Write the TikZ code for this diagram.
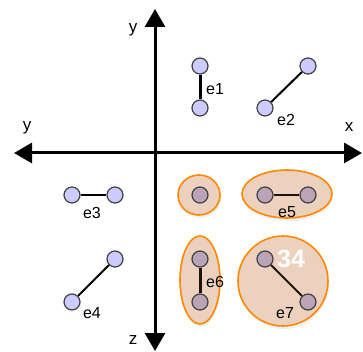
\documentclass[tikz,border=0pt]{standalone}
\usepackage{fontspec}
\setmainfont{Liberation Sans}
\usepackage{tikz}
\usetikzlibrary{arrows.meta,shadows}
\definecolor{vlight}{RGB}{204,204,255}
\definecolor{vgroup}{RGB}{188,164,184}
\definecolor{gfill}{RGB}{236,210,190}
\definecolor{gline}{RGB}{255,136,0}

\begin{document}
\begin{tikzpicture}[
    x=1pt, y=-1pt,
    >={Triangle[length=18pt,width=20pt]},
    axis/.style={line width=3pt},
    vert/.style={circle, draw=black!75, line width=1.2pt, fill=vlight, minimum size=16pt, inner sep=0pt},
    gvert/.style={vert, fill=vgroup},
    edge/.style={line width=2pt},
    elabel/.style={font=\fontsize{16}{16}\selectfont},
    axlabel/.style={font=\fontsize{17}{17}\selectfont},
    group/.style={draw=gline, line width=1.6pt, fill=gfill, drop shadow={opacity=0.12, shadow xshift=1pt, shadow yshift=-3pt}},
  ]
  \useasboundingbox (0,0) rectangle (363,352);

  % ========= AXES =========
  \coordinate (ytip) at (155,9);
  \coordinate (ztip) at (155,351);
  \coordinate (yleft) at (14,153);
  \coordinate (xtip) at (362,153);
  \draw[axis, <->] (ztip) -- (ytip);
  \draw[axis, <->] (yleft) -- (xtip);
  \node[axlabel] (ly) at (133,30) {y};
  \node[axlabel] (lyl) at (27,128) {y};
  \node[axlabel] (lx) at (349,127) {x};
  \node[axlabel] (lz) at (133,340) {z};

  % ========= GROUPS =========
  \draw[group] (199,195) ellipse (21 and 20);
  \draw[group] (287,194) ellipse (45 and 24);
  \draw[group] (200,280) ellipse (20 and 44);
  \draw[group] (283,281) circle (45);

  % ========= UPPER RIGHT =========
  \node[vert] (a1) at (200,66) {};
  \node[vert] (b1) at (200,108) {};
  \draw[edge, line width=3pt] (a1) -- (b1);
  \node[elabel] at (215,89) {e1};

  \node[vert] (a2) at (308,66) {};
  \node[vert] (b2) at (265,108) {};
  \draw[edge] (a2) -- (b2);
  \node[elabel] at (286,120) {e2};

  % ========= LEFT =========
  \node[vert] (a3) at (72,195) {};
  \node[vert] (b3) at (115,195) {};
  \draw[edge] (a3) -- (b3);
  \node[elabel] at (92,213) {e3};

  \node[vert] (a4) at (115,259) {};
  \node[vert] (b4) at (72,302) {};
  \draw[edge] (a4) -- (b4);
  \node[elabel] at (92,313) {e4};

  % ========= GROUPED =========
  \node[gvert] (s) at (200,195) {};

  \node[gvert] (a5) at (265,195) {};
  \node[gvert] (b5) at (308,195) {};
  \draw[edge, black!85!brown] (a5) -- (b5);
  \node[elabel] at (287,212) {e5};

  \node[gvert] (a6) at (200,259) {};
  \node[gvert] (b6) at (200,302) {};
  \draw[edge, line width=3pt, black!85!brown] (a6) -- (b6);
  \node[elabel] at (215,282) {e6};

  \node[gvert] (a7) at (265,259) {};
  \node[gvert] (b7) at (308,302) {};
  \draw[edge, black!85!brown] (a7) -- (b7);
  \node[elabel] at (285,313) {e7};
  \node[font=\fontsize{25}{25}\selectfont\bfseries, text=white] (num) at (291,259) {34};
\end{tikzpicture}
\end{document}
